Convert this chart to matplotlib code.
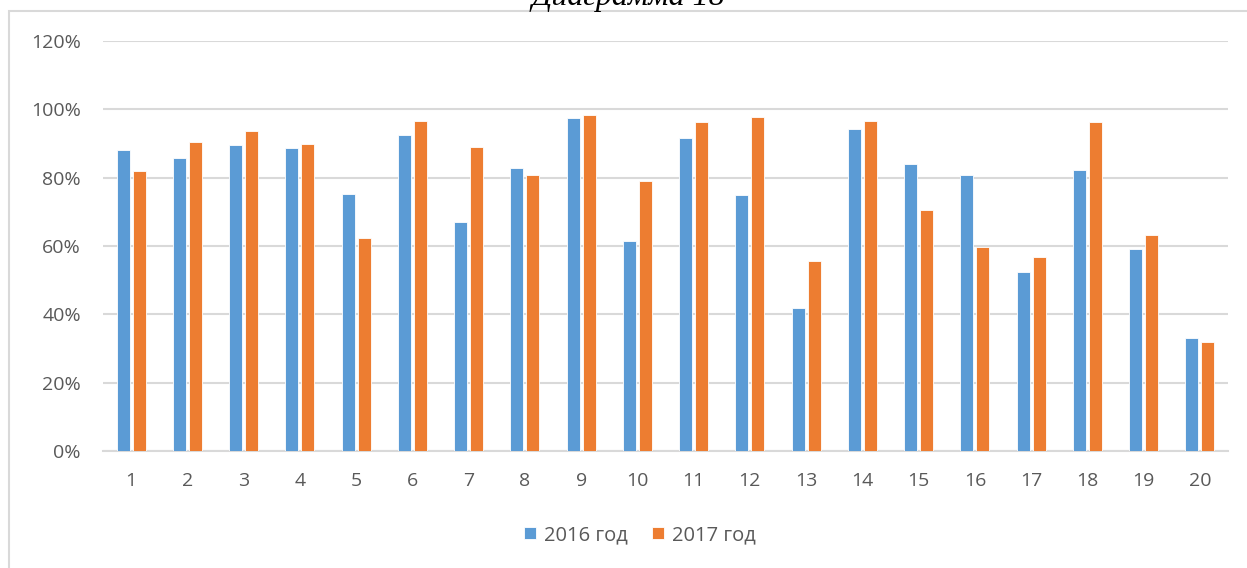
import numpy as np
import matplotlib
matplotlib.use('Agg')
import matplotlib.pyplot as plt
from matplotlib.patches import Rectangle

# Values
categories = [str(i) for i in range(1, 21)]
values_2016 = [88.0, 85.8, 89.6, 88.8, 75.2, 92.6, 67.0, 82.8, 97.4, 61.4,
               91.7, 74.9, 41.8, 94.1, 83.9, 80.9, 52.4, 82.1, 59.2, 33.0]
values_2017 = [82.0, 90.3, 93.7, 90.0, 62.2, 96.7, 89.1, 80.8, 98.2, 79.0,
               96.3, 97.9, 55.6, 96.7, 70.4, 59.6, 56.9, 96.3, 63.2, 31.8]
series_labels = ['2016 год', '2017 год']
y_ticks = [0, 20, 40, 60, 80, 100, 120]

blue = '#5b9bd5'
orange = '#ed7d31'
grid_col = '#d9d9d9'
text_col = '#595959'

plt.rcParams['font.family'] = ['Open Sans', 'DejaVu Sans']

fig = plt.figure(figsize=(12.47, 5.68), dpi=100)
ax = fig.add_axes([103 / 1247, 1 - 451 / 568, 1125 / 1247, 410 / 568])

x = np.arange(1, len(categories) + 1)
w = 0.235
off = 0.142
ax.bar(x - off, values_2016, width=w, color=blue, edgecolor='white', linewidth=0.6,
       label=series_labels[0], zorder=3)
ax.bar(x + off, values_2017, width=w, color=orange, edgecolor='white', linewidth=0.6,
       label=series_labels[1], zorder=3)

ax.set_xlim(0.5, len(categories) + 0.5)
ax.set_ylim(0, 120)
ax.set_yticks(y_ticks)
ax.set_yticklabels([f'{v}%' for v in y_ticks])
ax.set_xticks(x)
ax.set_xticklabels(categories)

ax.grid(axis='y', color=grid_col, linewidth=1.5, zorder=0)
ax.set_axisbelow(True)
for side in ['top', 'right', 'left']:
    ax.spines[side].set_visible(False)
ax.spines['bottom'].set_color(grid_col)
ax.spines['bottom'].set_linewidth(1.5)
ax.tick_params(axis='both', length=0, labelsize=14, colors=text_col)
ax.tick_params(axis='y', pad=16)
ax.tick_params(axis='x', pad=15)

leg = fig.legend(loc='center', bbox_to_anchor=(640 / 1247, 1 - 535 / 568), ncol=2,
                 frameon=False, fontsize=14.5, handlelength=0.6, handleheight=0.6,
                 handletextpad=0.4, columnspacing=1.2)
for t in leg.get_texts():
    t.set_color(text_col)

# outer chart border (runs off the right and bottom edges)
fig.patches.append(Rectangle((9 / 1247, -0.1), 1.2, 1 - 11 / 568 + 0.1,
                             transform=fig.transFigure, fill=False,
                             edgecolor=grid_col, linewidth=1.5))

# page caption above the chart, mostly cut off
fig.text(628 / 1247, 1 - 5 / 568, 'Диаграмма 18', ha='center', va='baseline',
         fontsize=23, style='italic', family='Liberation Serif', color='black')

fig.savefig('out.png', dpi=100)
